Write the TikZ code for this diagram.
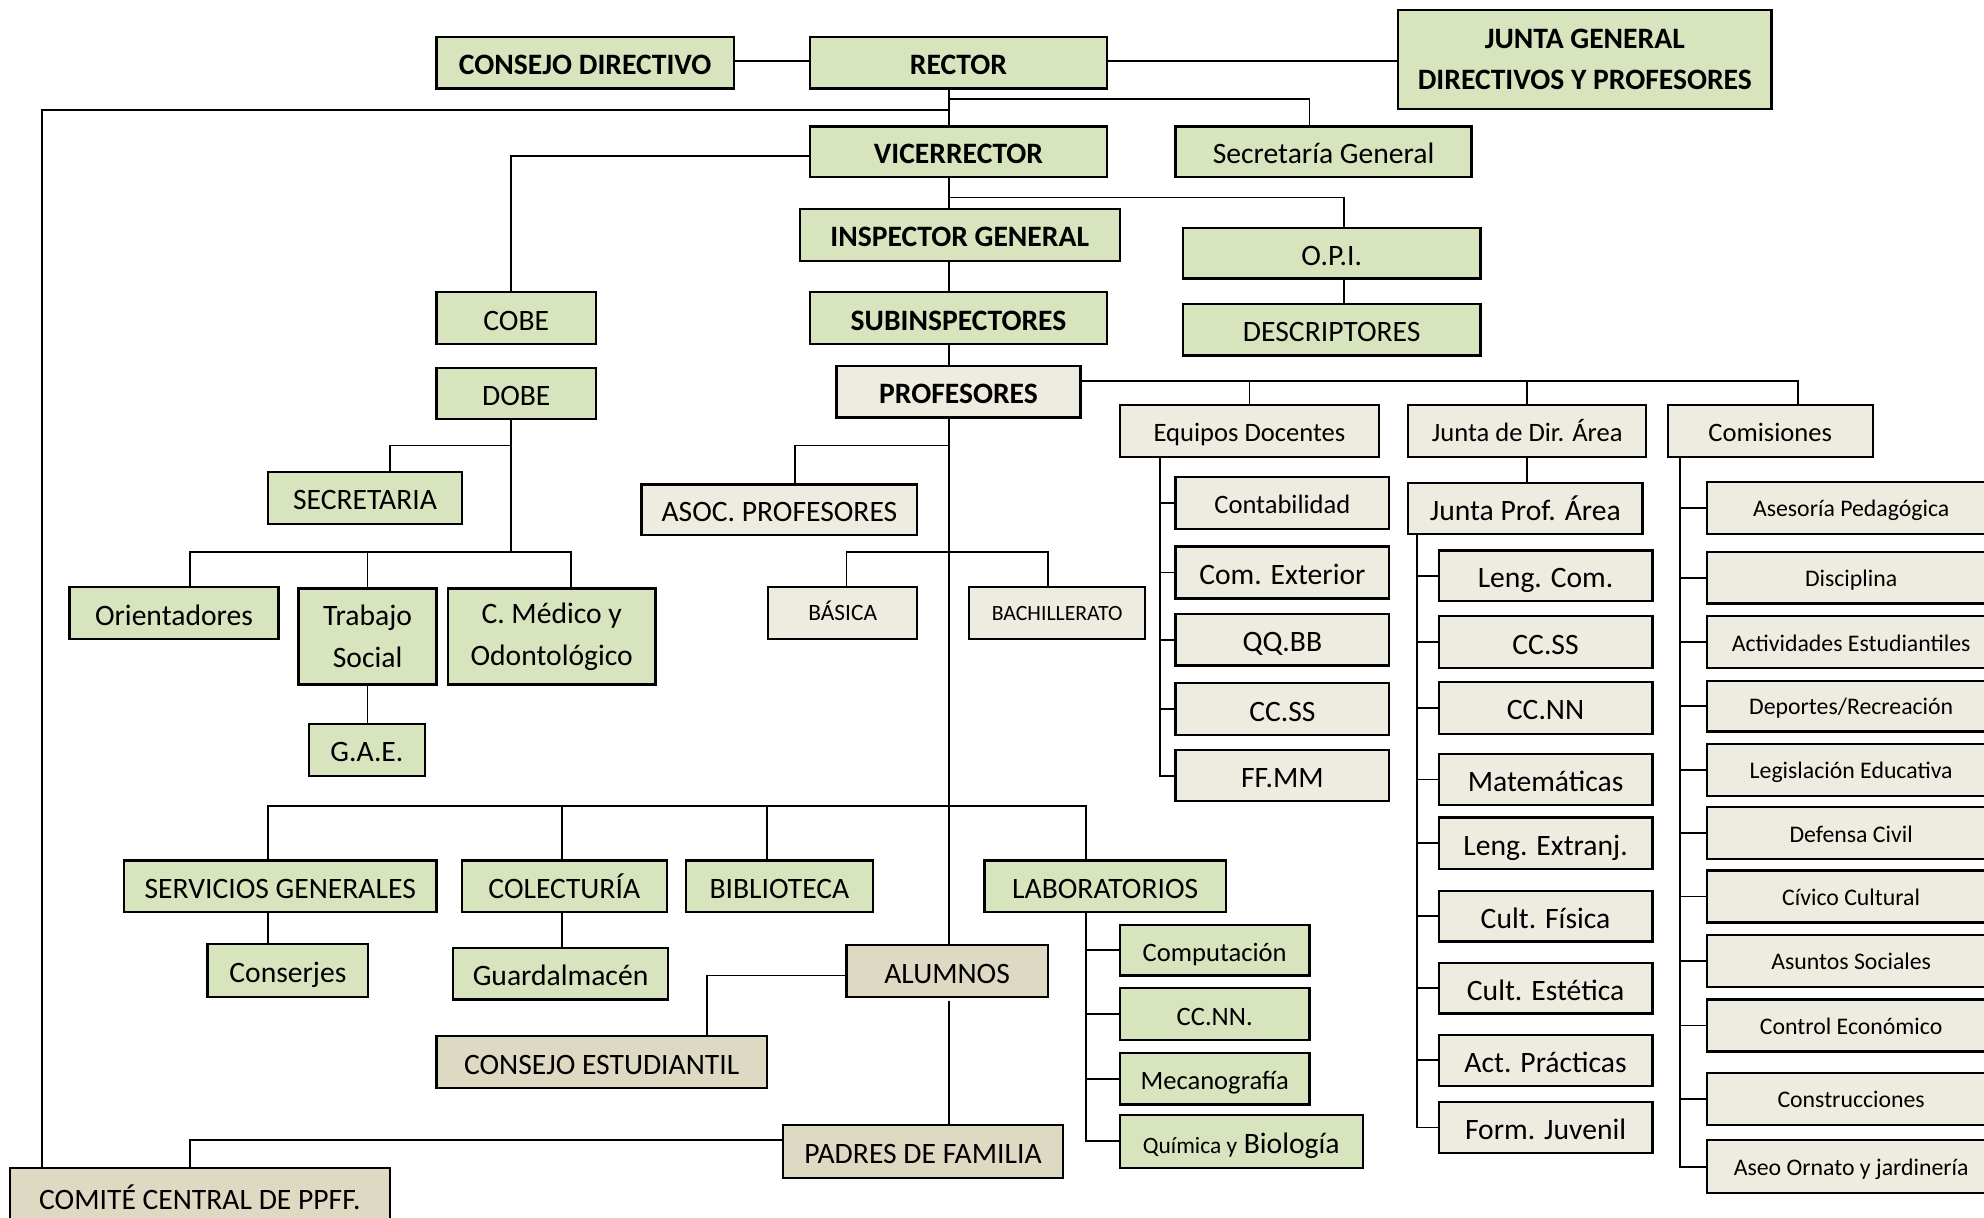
\documentclass[tikz,border=0pt]{standalone}
\usepackage{fontspec}
\setmainfont{Carlito}
\definecolor{gfill}{HTML}{D7E4BD}
\definecolor{bfill}{HTML}{EEECE1}
\definecolor{tfill}{HTML}{DDD9C3}
\tikzset{
  base/.style={draw=black, line width=1.8pt, inner sep=0pt, align=center, norm},
  norm/.style={font=\fontsize{23.4}{33}\selectfont, text height=19.5pt, text depth=0.5pt},
  bold/.style={font=\fontsize{23.4}{33}\selectfont\bfseries, text height=19.5pt, text depth=0.5pt},
  twol/.style={text height=, text depth=},
  ftw/.style={font=\fontsize{21}{24}\selectfont, text height=17.7pt, text depth=0.5pt},
  med/.style={font=\fontsize{18.8}{22}\selectfont, text height=14.5pt, text depth=0.5pt},
  small/.style={font=\fontsize{18.5}{20}\selectfont, text height=12pt, text depth=0.5pt},
  tiny/.style={font=\fontsize{17.2}{20}\selectfont, text height=11.6pt, text depth=0.5pt},
  gb/.style={base, fill=gfill},
  bb/.style={base, fill=bfill},
  tb/.style={base, fill=tfill},
  sz/.style 2 args={minimum width=#1pt, minimum height=#2pt},
  conn/.style={line width=1.4pt},
}
\begin{document}
\begin{tikzpicture}[x=1pt,y=-1pt]
\fill[white] (0,0) rectangle (1568,962);
\useasboundingbox (0,0) rectangle (1568,962);
% top
\node[gb,bold,sz={235}{41}] (cd) at (462.5,49.5) {CONSEJO DIRECTIVO};
\node[gb,bold,sz={235}{41}] (rector) at (757.5,49.5) {RECTOR};
\node[gb,bold,twol,sz={295}{78}] (junta) at (1252.5,47) {JUNTA GENERAL\\DIRECTIVOS Y PROFESORES};
\node[gb,bold,sz={235}{40}] (vice) at (757.5,120) {VICERRECTOR};
\node[gb,sz={234}{40}] (secg) at (1046,120) {Secretaría General};
\node[gb,bold,sz={253}{41}] (insp) at (758.5,185.5) {INSPECTOR GENERAL};
\node[gb,sz={235}{40}] (opi) at (1052.5,200) {O.P.I.};
\node[gb,sz={235}{41}] (desc) at (1052.5,260.5) {DESCRIPTORES};
\node[gb,sz={126}{41}] (cobe) at (408,251.5) {COBE};
\node[gb,bold,sz={235}{41}] (subi) at (757.5,251.5) {SUBINSPECTORES};
\node[gb,sz={126}{40}] (dobe) at (408,311) {DOBE};
\node[bb,bold,sz={193}{41}] (prof) at (757.5,309.5) {PROFESORES};
\node[gb,sz={153}{41}] (secr) at (288.5,393.5) {SECRETARIA};
\node[bb,sz={218}{40}] (asoc) at (616,403) {ASOC. PROFESORES};
\node[bb,ftw,sz={205}{41}] (equi) at (987.5,340.5) {Equipos Docentes};
\node[bb,ftw,sz={188}{41}] (jdir) at (1207,340.5) {Junta de Dir. Área};
\node[bb,ftw,sz={162}{41}] (comi) at (1399,340.5) {Comisiones};
\node[gb,sz={165}{41}] (orie) at (137.5,484.5) {Orientadores};
\node[gb,twol,sz={109}{76}] (trab) at (290.5,503) {Trabajo\\Social};
\node[gb,twol,sz={164}{76}] (cmed) at (436,503) {C. Médico y\\Odontológico};
\node[bb,small,sz={118}{41}] (basi) at (666,484.5) {BÁSICA};
\node[bb,tiny,sz={139}{41}] (bach) at (835.5,484.5) {BACHILLERATO};
\node[gb,sz={92}{41}] (gae) at (290,592.5) {G.A.E.};
% equipos docentes
\node[bb,ftw,sz={169}{41}] (cont) at (1013.5,397.5) {Contabilidad};
\node[bb,sz={169}{41}] (comx) at (1013.5,452.5) {Com. Exterior};
\node[bb,sz={169}{41}] (qqbb) at (1013.5,505.5) {QQ.BB};
\node[bb,sz={169}{41}] (ccssa) at (1013.5,560.5) {CC.SS};
\node[bb,sz={169}{40}] (ffmm) at (1013.5,613) {FF.MM};
% junta prof
\node[bb,sz={185}{40}] (jpro) at (1205.5,402) {Junta Prof. Área};
\node[bb,sz={169}{40}] (leng) at (1221.5,455) {Leng. Com.};
\node[bb,sz={169}{41}] (ccssb) at (1221.5,507.5) {CC.SS};
\node[bb,sz={169}{41}] (ccnnb) at (1221.5,559.5) {CC.NN};
\node[bb,sz={169}{40}] (mate) at (1221.5,616) {Matemáticas};
\node[bb,sz={169}{41}] (lext) at (1221.5,666.5) {Leng. Extranj.};
\node[bb,sz={169}{40}] (cfis) at (1221.5,724) {Cult. Física};
\node[bb,sz={169}{40}] (cest) at (1221.5,781) {Cult. Estética};
\node[bb,sz={169}{40}] (actp) at (1221.5,838) {Act. Prácticas};
\node[bb,sz={169}{40}] (form) at (1221.5,891) {Form. Juvenil};
% comisiones
\node[bb,med,sz={228}{41}] (ases) at (1463,401.5) {Asesoría Pedagógica};
\node[bb,med,sz={228}{41}] (disc) at (1463,456.5) {Disciplina};
\node[bb,med,sz={228}{41}] (acte) at (1463,507.5) {Actividades Estudiantiles};
\node[bb,med,sz={228}{40}] (depo) at (1463,558) {Deportes/Recreación};
\node[bb,med,sz={228}{41}] (legi) at (1463,608.5) {Legislación Educativa};
\node[bb,med,sz={228}{41}] (defe) at (1463,658.5) {Defensa Civil};
\node[bb,med,sz={228}{41}] (civi) at (1463,708.5) {Cívico Cultural};
\node[bb,med,sz={228}{41}] (asun) at (1463,759.5) {Asuntos Sociales};
\node[bb,med,sz={228}{41}] (cecon) at (1463,810.5) {Control Económico};
\node[bb,med,sz={228}{41}] (cons) at (1463,868.5) {Construcciones};
\node[bb,med,sz={228}{42}] (aseo) at (1463,922) {Aseo Ornato y jardinería};
% bottom
\node[gb,sz={247}{41}] (serv) at (221.5,700.5) {SERVICIOS GENERALES};
\node[gb,sz={162}{41}] (cole) at (446,700.5) {COLECTURÍA};
\node[gb,sz={148}{41}] (bibl) at (616,700.5) {BIBLIOTECA};
\node[gb,sz={191}{41}] (labo) at (873.5,700.5) {LABORATORIOS};
\node[gb,sz={127}{42}] (conj) at (227.5,767) {Conserjes};
\node[gb,sz={170}{41}] (guar) at (443,769.5) {Guardalmacén};
\node[tb,sz={159}{41}] (alum) at (748.5,767.5) {ALUMNOS};
\node[gb,ftw,sz={150}{40}] (comp) at (960,751) {Computación};
\node[gb,ftw,sz={150}{41}] (ccnnc) at (960,801.5) {CC.NN.};
\node[gb,ftw,sz={150}{41}] (meca) at (960,852.5) {Mecanografía};
\node[gb,sz={192}{42}] (quim) at (981,902) {{\fontsize{18.5}{20}\selectfont Química y} Biología};
\node[tb,sz={261}{41}] (cestu) at (475.5,839.5) {CONSEJO ESTUDIANTIL};
\node[tb,sz={221}{42}] (padr) at (729.5,910) {PADRES DE FAMILIA};
\node[tb,sz={300}{46}] (comt) at (158,946) {COMITÉ CENTRAL DE PPFF.};
% coordinates
\coordinate (tx) at (750,0);
\coordinate (j1) at (750,78);
\coordinate (j2) at (750,87);
\coordinate (j3) at (750,156);
\coordinate (d1) at (404,436);
\coordinate (d2) at (404,352);
\coordinate (p1) at (1000,301);
\coordinate (j4) at (750,352);
\coordinate (j5) at (750,436);
\coordinate (j6) at (750,637);
% connectors
\begin{scope}[conn]
\draw ([yshift=1.5pt]cd.east) -- ([yshift=1.5pt]rector.west);
\draw ([yshift=1.5pt]rector.east) -- ([yshift=1.5pt]junta.west |- rector.east);
\draw (rector.south -| tx) -- (vice.north -| tx);
\draw (j1) -| ([xshift=-11pt]secg.north);
\draw (j2) -| ([xshift=-125pt]comt.north);
\draw ([yshift=-3pt]vice.west) -| ([xshift=-4pt]cobe.north);
\draw (vice.south -| tx) -- (insp.north -| tx);
\draw (j3) -| ([xshift=9.5pt]opi.north);
\draw (insp.south -| tx) -- (subi.north -| tx);
\draw (subi.south -| tx) -- (prof.north -| tx);
\draw ([xshift=9.5pt]opi.south) -- ([xshift=9.5pt]desc.north);
\draw ([xshift=-4pt]dobe.south) -- (d1);
\draw (d2) -| ([xshift=19.5pt]secr.north);
\draw (d1) -| ([xshift=12.5pt]orie.north);
\draw (d1) -| ([xshift=15pt]cmed.north);
\draw (d1 -| trab.north) -- (trab.north);
\draw (trab.south) -- (trab.south |- gae.north);
\draw ([yshift=8.5pt]prof.east) -| ([xshift=22pt]comi.north);
\draw (equi.north |- p1) -- (equi.north);
\draw (jdir.north |- p1) -- (jdir.north);
\draw (prof.south -| tx) -- (alum.north -| tx);
\draw (j4) -| ([xshift=12pt]asoc.north);
\draw ([xshift=3pt]basi.north) |- (j5) -| ([xshift=-7.5pt]bach.north);
\draw ([xshift=-9.5pt]serv.north) |- (j6) -| ([xshift=-15.5pt]labo.north);
\draw ([xshift=-2pt]cole.north) -- ([xshift=-2pt]cole.north |- j6);
\draw ([xshift=-10pt]bibl.north) -- ([xshift=-10pt]bibl.north |- j6);
\draw ([xshift=-9.5pt]serv.south) -- ([xshift=-9.5pt]serv.south |- conj.north);
\draw ([xshift=-2pt]cole.south) -- ([xshift=-2pt]cole.south |- guar.north);
\draw ([xshift=-15.5pt]labo.south) |- (quim.west);
\foreach \n in {comp,ccnnc,meca} \draw ([xshift=-15.5pt]labo.south |- \n.west) -- (\n.west);
\draw ([yshift=-3.5pt]alum.west) -| ([xshift=83.5pt]cestu.north);
\draw ([yshift=-2pt]alum.south -| tx) -- (padr.north -| tx);
\draw ([yshift=9pt]padr.west) -| ([xshift=-8pt]comt.north);
\draw ([xshift=-70.5pt]equi.south) |- (ffmm.west);
\foreach \n in {cont,comx,qqbb,ccssa} \draw ([xshift=-70.5pt]equi.south |- \n.west) -- (\n.west);
\draw (jdir.south) -- (jdir.south |- jpro.north);
\draw ([xshift=-85.5pt]jpro.south) |- (form.west);
\foreach \n in {leng,ccssb,ccnnb,mate,lext,cfis,cest,actp} \draw ([xshift=-85.5pt]jpro.south |- \n.west) -- (\n.west);
\draw ([xshift=-71pt]comi.south) |- (aseo.west);
\foreach \n in {ases,disc,acte,depo,legi,defe,civi,asun,cecon,cons} \draw ([xshift=-71pt]comi.south |- \n.west) -- (\n.west);
\end{scope}
\end{tikzpicture}
\end{document}
